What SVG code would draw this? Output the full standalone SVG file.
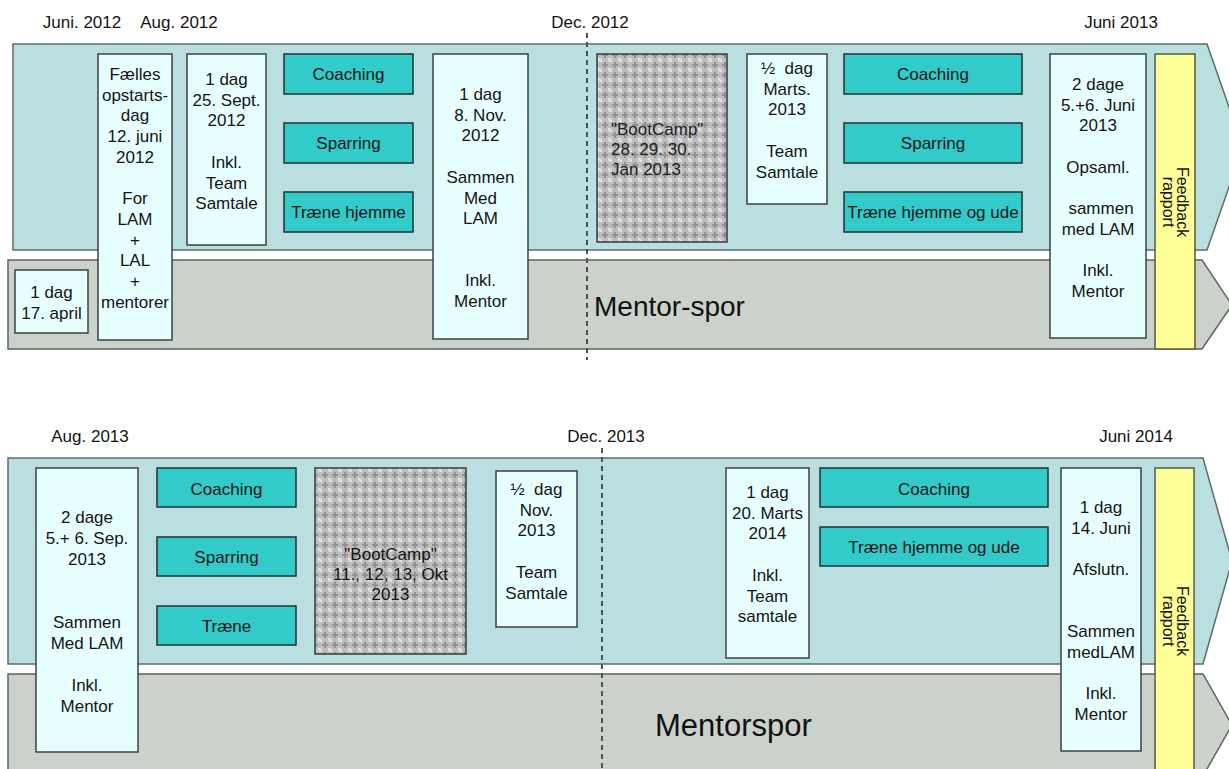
<svg xmlns="http://www.w3.org/2000/svg" width="1229" height="769" viewBox="0 0 1229 769">
<defs>
<pattern id="hatch" width="10" height="10" patternUnits="userSpaceOnUse">
<rect width="10" height="10" fill="#bdbdbd"/>
<rect x="0" y="0" width="2" height="2" fill="#e4e4e4"/>
<rect x="8" y="8" width="2" height="2" fill="#e4e4e4"/>
<rect x="8" y="0" width="2" height="2" fill="#d2d2d2"/>
<rect x="0" y="8" width="2" height="2" fill="#d2d2d2"/>
<path d="M4 2h2v2h2v2h-2v2h-2v-2h-2v-2h2z" fill="#929292"/>
</pattern>
<style>
.band1{fill:#b9dfe0;stroke:#5f6b6b;stroke-width:1.5}
.band2{fill:#cbd1cb;stroke:#5f635f;stroke-width:1.5}
.box{fill:#e8ffff;stroke:#3d4242;stroke-width:1.5}
.act{fill:#33cbc9;stroke:#263030;stroke-width:1.5}
.boot{fill:url(#hatch);stroke:#3d3d3d;stroke-width:1.5}
.fb{fill:#ffff99;stroke:#5a5a40;stroke-width:1.5}
.t{font-family:"Liberation Sans",Arial,sans-serif;font-size:17px;fill:#141414;text-anchor:middle}
.d{font-family:"Liberation Sans",Arial,sans-serif;font-size:17px;fill:#141414;text-anchor:middle}
.bt{font-family:"Liberation Sans",Arial,sans-serif;font-size:17px;fill:#222;}
.f{font-family:"Liberation Sans",Arial,sans-serif;font-size:16px;fill:#141414;text-anchor:middle}
.big{font-family:"Liberation Sans",Arial,sans-serif;fill:#111}
.dash{stroke:#505050;stroke-width:2;stroke-dasharray:5 4;fill:none}
</style>
</defs>
<rect width="1229" height="769" fill="#ffffff"/>

<g id="bands">
<polygon class="band1" points="13,44 1207,44 1243,147 1207,250 13,250"/>
<polygon class="band2" points="8,260 1202,260 1232,305 1202,349 8,349"/>
<polygon class="band1" points="8,458 1203,458 1232,561 1203,664 8,664"/>
<polygon class="band2" points="8,674 1203,674 1232,725 1203,776 8,776"/>
</g>

<g id="dates">
<text class="d" x="82" y="28">Juni. 2012</text>
<text class="d" x="179" y="28">Aug. 2012</text>
<text class="d" x="590" y="28">Dec. 2012</text>
<text class="d" x="1121" y="28">Juni 2013</text>
<text class="d" x="90" y="442">Aug. 2013</text>
<text class="d" x="606" y="442">Dec. 2013</text>
<text class="d" x="1136" y="442">Juni 2014</text>
</g>

<g id="connectors">
<line class="dash" x1="587" y1="33" x2="587" y2="360"/>
<line class="dash" x1="602" y1="448" x2="602" y2="769"/>
</g>

<g id="track-labels">
<text class="big" x="594" y="316" font-size="28">Mentor-spor</text>
<text class="big" x="655" y="736" font-size="31">Mentorspor</text>
</g>

<g id="n-17april">
<rect class="box" x="15" y="270" width="73" height="63"/>
<text class="t"><tspan x="51.5" y="298">1 dag</tspan><tspan x="51.5" y="319">17. april</tspan></text>
</g>
<g id="n-faelles">
<rect class="box" x="98" y="54" width="74" height="286"/>
<text class="t"><tspan x="135" y="80">Fælles</tspan><tspan x="135" y="100.7">opstarts-</tspan><tspan x="135" y="121.4">dag</tspan><tspan x="135" y="142.1">12. juni</tspan><tspan x="135" y="162.8">2012</tspan><tspan x="135" y="204.2">For</tspan><tspan x="135" y="224.9">LAM</tspan><tspan x="135" y="245.6">+</tspan><tspan x="135" y="266.3">LAL</tspan><tspan x="135" y="287">+</tspan><tspan x="135" y="307.7">mentorer</tspan></text>
</g>
<g id="n-25sept">
<rect class="box" x="187" y="54" width="79" height="191"/>
<text class="t"><tspan x="226.5" y="85">1 dag</tspan><tspan x="226.5" y="105.7">25. Sept.</tspan><tspan x="226.5" y="126.4">2012</tspan><tspan x="226.5" y="167.8">Inkl.</tspan><tspan x="226.5" y="188.5">Team</tspan><tspan x="226.5" y="209.2">Samtale</tspan></text>
</g>
<g id="n-coaching1">
<rect class="act" x="284" y="54" width="129" height="40"/>
<text class="t" x="348.5" y="80">Coaching</text>
</g>
<g id="n-sparring1">
<rect class="act" x="284" y="123" width="129" height="40"/>
<text class="t" x="348.5" y="149">Sparring</text>
</g>
<g id="n-traene1">
<rect class="act" x="284" y="192" width="129" height="40"/>
<text class="t" x="348.5" y="218">Træne hjemme</text>
</g>
<g id="n-8nov">
<rect class="box" x="433" y="54" width="95" height="285"/>
<text class="t"><tspan x="480.5" y="100">1 dag</tspan><tspan x="480.5" y="120.7">8. Nov.</tspan><tspan x="480.5" y="141.4">2012</tspan><tspan x="480.5" y="182.8">Sammen</tspan><tspan x="480.5" y="203.5">Med</tspan><tspan x="480.5" y="224.2">LAM</tspan><tspan x="480.5" y="286.3">Inkl.</tspan><tspan x="480.5" y="307">Mentor</tspan></text>
</g>
<g id="n-bootcamp1">
<rect class="boot" x="597" y="54" width="130" height="188"/>
<text class="bt"><tspan x="611" y="135">"BootCamp"</tspan><tspan x="611" y="155">28. 29. 30.</tspan><tspan x="611" y="175">Jan 2013</tspan></text>
</g>
<g id="n-marts2013">
<rect class="box" x="747" y="54" width="80" height="150"/>
<text class="t"><tspan x="787" y="74">½&#160; dag</tspan><tspan x="787" y="94.7">Marts.</tspan><tspan x="787" y="115.4">2013</tspan><tspan x="787" y="156.8">Team</tspan><tspan x="787" y="177.5">Samtale</tspan></text>
</g>
<g id="n-coaching2">
<rect class="act" x="844" y="54" width="178" height="40"/>
<text class="t" x="933" y="80">Coaching</text>
</g>
<g id="n-sparring2">
<rect class="act" x="844" y="123" width="178" height="40"/>
<text class="t" x="933" y="149">Sparring</text>
</g>
<g id="n-traene2">
<rect class="act" x="844" y="192" width="178" height="40"/>
<text class="t" x="933" y="218">Træne hjemme og ude</text>
</g>
<g id="n-juni2013">
<rect class="box" x="1050" y="54" width="96" height="284"/>
<text class="t"><tspan x="1098" y="90">2 dage</tspan><tspan x="1098" y="110.7">5.+6. Juni</tspan><tspan x="1098" y="131.4">2013</tspan><tspan x="1098" y="172.8">Opsaml.</tspan><tspan x="1101" y="214.2">sammen</tspan><tspan x="1098" y="234.9">med LAM</tspan><tspan x="1098" y="276.3">Inkl.</tspan><tspan x="1098" y="297">Mentor</tspan></text>
</g>
<g id="n-feedback1">
<rect class="fb" x="1155" y="54" width="40" height="295"/>
<text class="f" transform="translate(1177,202) rotate(90)" x="0" y="0">Feedback</text>
<text class="f" transform="translate(1163,202) rotate(90)" x="0" y="0">rapport</text>
</g>

<g id="n-sep2013">
<rect class="box" x="36" y="468" width="102" height="284"/>
<text class="t"><tspan x="87" y="523">2 dage</tspan><tspan x="87" y="544">5.+ 6. Sep.</tspan><tspan x="87" y="565">2013</tspan><tspan x="87" y="628">Sammen</tspan><tspan x="87" y="649">Med LAM</tspan><tspan x="87" y="691">Inkl.</tspan><tspan x="87" y="712">Mentor</tspan></text>
</g>
<g id="n-coaching3">
<rect class="act" x="157" y="468" width="139" height="39"/>
<text class="t" x="226.5" y="495">Coaching</text>
</g>
<g id="n-sparring3">
<rect class="act" x="157" y="537" width="139" height="39"/>
<text class="t" x="226.5" y="563">Sparring</text>
</g>
<g id="n-traene3">
<rect class="act" x="157" y="606" width="139" height="39"/>
<text class="t" x="226.5" y="632">Træne</text>
</g>
<g id="n-bootcamp2">
<rect class="boot" x="315" y="468" width="151" height="186"/>
<text class="t" fill="#222"><tspan x="390.5" y="560">"BootCamp"</tspan><tspan x="390.5" y="580">11., 12, 13, Okt</tspan><tspan x="390.5" y="600">2013</tspan></text>
</g>
<g id="n-nov2013">
<rect class="box" x="496" y="471" width="81" height="156"/>
<text class="t"><tspan x="536.5" y="495">½&#160; dag</tspan><tspan x="536.5" y="515.7">Nov.</tspan><tspan x="536.5" y="536.4">2013</tspan><tspan x="536.5" y="577.8">Team</tspan><tspan x="536.5" y="598.5">Samtale</tspan></text>
</g>
<g id="n-marts2014">
<rect class="box" x="726" y="468" width="83" height="190"/>
<text class="t"><tspan x="767.5" y="498">1 dag</tspan><tspan x="767.5" y="518.7">20. Marts</tspan><tspan x="767.5" y="539.4">2014</tspan><tspan x="767.5" y="580.8">Inkl.</tspan><tspan x="767.5" y="601.5">Team</tspan><tspan x="767.5" y="622.2">samtale</tspan></text>
</g>
<g id="n-coaching4">
<rect class="act" x="820" y="468" width="228" height="39"/>
<text class="t" x="934" y="495">Coaching</text>
</g>
<g id="n-traene4">
<rect class="act" x="820" y="527" width="228" height="39"/>
<text class="t" x="934" y="553">Træne hjemme og ude</text>
</g>
<g id="n-juni2014">
<rect class="box" x="1061" y="468" width="80" height="283"/>
<text class="t"><tspan x="1101" y="513">1 dag</tspan><tspan x="1101" y="533.7">14. Juni</tspan><tspan x="1101" y="575">Afslutn.</tspan><tspan x="1101" y="637.2">Sammen</tspan><tspan x="1101" y="658">medLAM</tspan><tspan x="1101" y="699.3">Inkl.</tspan><tspan x="1101" y="720">Mentor</tspan></text>
</g>
<g id="n-feedback2">
<rect class="fb" x="1155" y="468" width="39" height="310"/>
<text class="f" transform="translate(1177,621) rotate(90)" x="0" y="0">Feedback</text>
<text class="f" transform="translate(1163,621) rotate(90)" x="0" y="0">rapport</text>
</g>
</svg>
